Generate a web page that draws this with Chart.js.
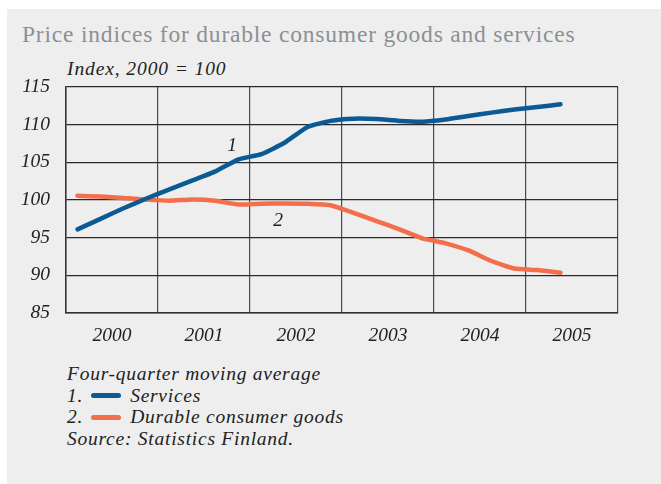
<!DOCTYPE html>
<html>
<head>
<meta charset="utf-8">
<script src="https://cdn.jsdelivr.net/npm/chart.js@4"></script>
<style>
  html, body { margin: 0; padding: 0; background: #ffffff; width: 661px; height: 484px; overflow: hidden; }
  #panel { position: absolute; left: 7px; top: 9px; right: 0; bottom: 0; background: #eeeeee; }
  #wrap { position: absolute; left: 0; top: 0; width: 661px; height: 360px; }
  .t { position: absolute; font-family: "Liberation Serif", "DejaVu Serif", serif; white-space: nowrap; }
  #title { left: 22px; top: 21px; font-size: 23.5px; letter-spacing: 0.8px; color: #8b9095; }
  #sub { left: 67px; top: 58px; font-size: 19.5px; letter-spacing: 0.9px; font-style: italic; color: #222; }
  #notes { left: 67px; top: 363px; font-size: 19.5px; letter-spacing: 0.75px; font-style: italic; color: #222; line-height: 21.7px; }
  .sw { display: inline-block; width: 30px; height: 5px; border-radius: 3px; vertical-align: middle; margin: 0 9px 3px 8px; }
</style>
</head>
<body>
<div id="panel"></div>
<div class="t" id="title">Price indices for durable consumer goods and services</div>
<div class="t" id="sub">Index, 2000 = 100</div>
<div id="wrap"><canvas id="c" width="661" height="360"></canvas></div>
<div class="t" id="notes">
  <div>Four-quarter moving average</div>
  <div>1.<span class="sw" style="background:#0b5a93"></span>Services</div>
  <div>2.<span class="sw" style="background:#f36f4c"></span>Durable consumer goods</div>
  <div>Source: Statistics Finland.</div>
</div>
<script>
// Years shown on the x axis (each year = 4 quarters)
const years = ['2000', '2001', '2002', '2003', '2004', '2005'];
// Quarterly values, 2000 Q1 – 2005 Q2 (four-quarter moving average)
const services = [96.1, 97.5, 98.9, 100.2, 101.4, 102.6, 103.8, 105.4, 106.1, 107.6, 109.7, 110.5,
                  110.8, 110.75, 110.5, 110.4, 110.7, 111.15, 111.6, 112.0, 112.35, 112.7];
const durables = [100.57, 100.45, 100.27, 100.05, 99.9, 100.08, 99.9, 99.4, 99.5, 99.55, 99.5, 99.3,
                  98.3, 97.2, 96.1, 94.9, 94.25, 93.3, 91.9, 90.9, 90.7, 90.35];
const yTicks = [85, 90, 95, 100, 105, 110, 115];
// In-plot series labels: [text, quarter position, value]
const seriesLabels = [['1', 7.22, 107.2], ['2', 9.22, 97.2]];

const toPoints = arr => arr.map((v, i) => ({ x: i + 0.5, y: v }));
const FONT = 'Liberation Serif';

const labelPlugin = {
  id: 'seriesLabels',
  afterDatasetsDraw(chart) {
    const { ctx, scales: { x, y } } = chart;
    ctx.save();
    ctx.font = 'italic 19.5px "' + FONT + '"';
    ctx.fillStyle = '#222';
    ctx.textAlign = 'center';
    ctx.textBaseline = 'middle';
    seriesLabels.forEach(([t, qx, vy]) => ctx.fillText(t, x.getPixelForValue(qx), y.getPixelForValue(vy)));
    ctx.restore();
  }
};

new Chart(document.getElementById('c'), {
  type: 'line',
  data: {
    datasets: [
      { label: 'Services', data: toPoints(services), borderColor: '#0b5a93', borderWidth: 4.5,
        pointRadius: 0, tension: 0.15, borderCapStyle: 'round', borderJoinStyle: 'round' },
      { label: 'Durable consumer goods', data: toPoints(durables), borderColor: '#f36f4c', borderWidth: 4.5,
        pointRadius: 0, tension: 0.15, borderCapStyle: 'round', borderJoinStyle: 'round' }
    ]
  },
  options: {
    responsive: false,
    animation: false,
    layout: { padding: { top: 87, right: 43, left: 0, bottom: 0 } },
    plugins: { legend: { display: false }, tooltip: { enabled: false }, title: { display: false } },
    scales: {
      x: {
        type: 'linear', min: 0, max: years.length * 4,
        afterFit(s) { s.height = 47; },
        afterBuildTicks(s) { s.ticks = []; for (let v = 0; v <= years.length * 4; v += 2) s.ticks.push({ value: v }); },
        ticks: {
          autoSkip: false, maxRotation: 0, padding: 11, color: '#222',
          font: { family: FONT, size: 19.5, style: 'italic' },
          callback: v => (v % 4 === 2 ? years[(v - 2) / 4] : '')
        },
        grid: {
          drawTicks: false, lineWidth: 1.2,
          color: c => (c.tick && c.tick.value % 4 === 2 ? 'rgba(0,0,0,0)' : '#4a4a4a')
        },
        border: { color: '#333', width: 1.5 }
      },
      y: {
        min: 85, max: 115,
        afterFit(s) { s.width = 66; },
        afterBuildTicks(s) { s.ticks = yTicks.map(v => ({ value: v })); },
        ticks: { padding: 16, color: '#222', font: { family: FONT, size: 19.5, style: 'italic' } },
        grid: { drawTicks: false, color: '#2a2a2a', lineWidth: 1.2 },
        border: { color: '#333', width: 1.5 }
      }
    }
  },
  plugins: [labelPlugin]
});
</script>
</body>
</html>
